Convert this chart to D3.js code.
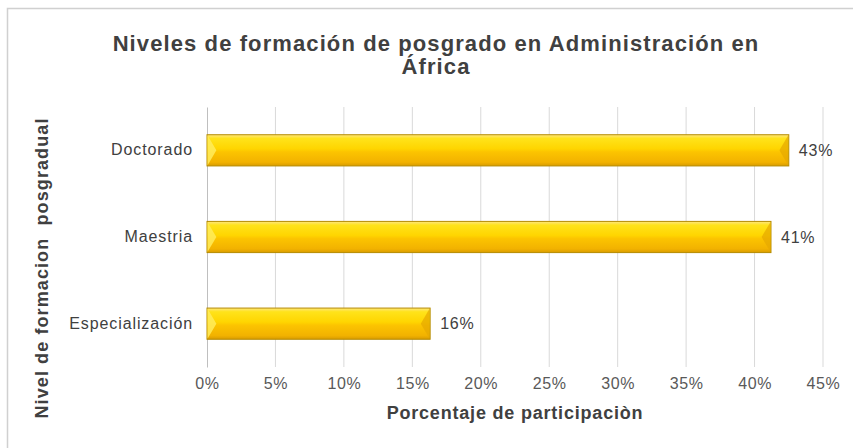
<!DOCTYPE html>
<html>
<head>
<meta charset="utf-8">
<script src="https://cdn.jsdelivr.net/npm/d3@7"></script>
<style>
  body { margin: 0; background: #fff; }
  svg { display: block; }
</style>
</head>
<body>
<div id="chart"></div>
<script>
// data
const categories = ["Doctorado", "Maestria", "Especialización"];
const shares = [0.425, 0.412, 0.163];
const shareLabels = ["43%", "41%", "16%"];
const xTicks = [0, 0.05, 0.10, 0.15, 0.20, 0.25, 0.30, 0.35, 0.40, 0.45];
const titleLines = ["Niveles de formación de posgrado en Administración en", "África"];
const xTitle = "Porcentaje de participaciòn";
const yTitle = "Nivel de formacion  posgradual";

const W = 853, H = 448;
const margin = {top: 107, right: 30, bottom: 81, left: 207};
const width = W - margin.left - margin.right;
const height = H - margin.top - margin.bottom;
const font = "'Liberation Sans', Arial, sans-serif";

const svg = d3.select("#chart").append("svg")
    .attr("width", W)
    .attr("height", H)
    .style("font-family", font);

// chart frame
svg.append("rect")
    .attr("x", 7.5).attr("y", 8.5)
    .attr("width", W).attr("height", H)
    .attr("fill", "none")
    .attr("stroke", "#d0d0d0")
    .attr("stroke-width", 1.5);

const defs = svg.append("defs");
const grad = defs.append("linearGradient")
    .attr("id", "barGrad")
    .attr("x1", 0).attr("y1", 0).attr("x2", 0).attr("y2", 1);
[["0%", "#ffe680"], ["12%", "#ffe31a"], ["45%", "#ffd500"], ["55%", "#fcc400"], ["88%", "#f2b200"], ["100%", "#d99c00"]]
    .forEach(s => grad.append("stop").attr("offset", s[0]).attr("stop-color", s[1]));

const g = svg.append("g")
    .attr("transform", `translate(${margin.left}, ${margin.top})`);

const x = d3.scaleLinear().domain([0, 0.45]).range([0, width]);
const y = d3.scaleBand()
    .domain(categories)
    .range([0, height])
    .paddingInner(0.64)
    .paddingOuter(0.32);

// gridlines
g.append("g")
    .selectAll("line")
    .data(xTicks.slice(1))
    .enter().append("line")
        .attr("x1", d => x(d)).attr("x2", d => x(d))
        .attr("y1", 0).attr("y2", height)
        .attr("stroke", "#d9d9d9")
        .attr("stroke-width", 1);

const xAxis = d3.axisBottom(x)
    .tickValues(xTicks)
    .tickFormat(d3.format(".0%"))
    .tickSize(0)
    .tickPadding(11);

const gX = g.append("g")
    .attr("transform", `translate(0, ${height})`)
    .call(xAxis);
gX.select(".domain").remove();
gX.selectAll("text")
    .attr("fill", "#595959")
    .style("font-size", "16px")
    .style("letter-spacing", "0.6px")
    .style("font-family", font);

const yAxis = d3.axisLeft(y).tickSize(0).tickPadding(14);
const gY = g.append("g").call(yAxis);
gY.select(".domain").attr("stroke", "#bfbfbf");
gY.selectAll("text")
    .attr("fill", "#404040")
    .style("font-size", "16px")
    .style("letter-spacing", "0.9px")
    .style("font-family", font);

const rows = categories.map((c, i) => ({name: c, value: shares[i], label: shareLabels[i]}));

const bars = g.selectAll(".bar")
    .data(rows)
    .enter().append("g")
        .attr("class", "bar");

bars.append("rect")
    .attr("x", 0)
    .attr("y", d => y(d.name))
    .attr("width", d => x(d.value))
    .attr("height", y.bandwidth())
    .attr("fill", "url(#barGrad)")
    .attr("stroke", "#b58b00")
    .attr("stroke-width", 1);

// bevel on the left end
const bev = y.bandwidth() * 0.3;
bars.append("path")
    .attr("d", d => {
        const y0 = y(d.name), bh = y.bandwidth();
        return `M0.5,${y0 + 0.5} L${bev},${y0 + bh / 2} L0.5,${y0 + bh - 0.5} Z`;
    })
    .attr("fill", "#ffec5c")
    .attr("opacity", 0.85);

// bevel on the right end
bars.append("path")
    .attr("d", d => {
        const y0 = y(d.name), bh = y.bandwidth(), xe = x(d.value);
        return `M${xe - 0.5},${y0 + 0.5} L${xe - bev},${y0 + bh / 2} L${xe - 0.5},${y0 + bh - 0.5} Z`;
    })
    .attr("fill", "#e6a800")
    .attr("opacity", 0.7);

bars.append("text")
    .attr("x", d => x(d.value) + 10)
    .attr("y", d => y(d.name) + y.bandwidth() / 2)
    .attr("dy", "0.35em")
    .attr("fill", "#404040")
    .style("font-size", "16px")
    .style("letter-spacing", "0.8px")
    .text(d => d.label);

// titles
const title = svg.append("text")
    .attr("x", 436)
    .attr("y", 51)
    .attr("text-anchor", "middle")
    .attr("fill", "#404040")
    .style("font-weight", "bold")
    .style("font-size", "22px")
    .style("letter-spacing", "1.1px");
titleLines.forEach((t, i) => {
    title.append("tspan")
        .attr("x", 436)
        .attr("dy", i === 0 ? 0 : "1.05em")
        .text(t);
});

svg.append("text")
    .attr("x", margin.left + x(0.225))
    .attr("y", 419)
    .attr("text-anchor", "middle")
    .attr("fill", "#404040")
    .style("font-weight", "bold")
    .style("font-size", "18px")
    .style("letter-spacing", "0.8px")
    .text(xTitle);

svg.append("text")
    .attr("transform", `translate(48, 268) rotate(-90)`)
    .attr("text-anchor", "middle")
    .attr("fill", "#404040")
    .style("font-weight", "bold")
    .style("font-size", "18px")
    .style("letter-spacing", "1.1px")
    .style("white-space", "pre")
    .text(yTitle);
</script>
</body>
</html>
